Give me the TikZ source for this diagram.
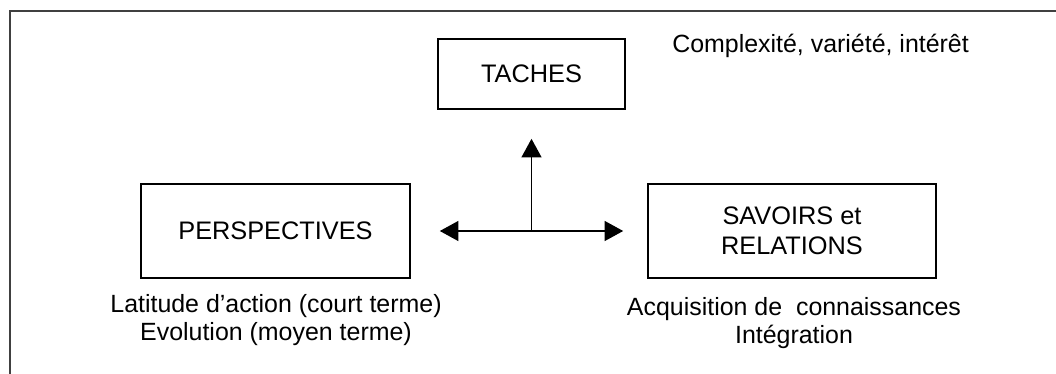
\documentclass[tikz,border=0pt]{standalone}
\usepackage{fontspec}
\setmainfont{Liberation Sans}
\usetikzlibrary{arrows.meta}
\begin{document}
\begin{tikzpicture}
        [x=0.75pt,y=-0.75pt,
         box/.style={draw,line width=1.2pt,inner sep=0pt,align=center,
           font=\fontsize{19}{22.5}\selectfont},
         note/.style={inner sep=0pt,align=center,
           font=\fontsize{18.7}{21}\selectfont},
         link/.style={line width=1.2pt,-{Triangle[length=14pt,width=15pt]}}]
        \useasboundingbox (0,0) rectangle (1056,374);

        \draw[line width=1.5pt,black!75] (10,374) -- (10,11.5) -- (1056,11.5);

        \node[box,minimum width=140pt,minimum height=52.5pt] (taches) at (531.5,74) {TACHES};
        \node[box,minimum width=201.75pt,minimum height=70.5pt] (persp) at (275.5,231) {PERSPECTIVES};
        \node[box,minimum width=216pt,minimum height=70.5pt] (savoirs) at (792,231) {SAVOIRS et\\RELATIONS};

        \node[note,anchor=base west] (tachesnote) at (672,53) {Complexité, variété, intérêt};
        \node[note] (perspnote) at (276,320) {Latitude d’action (court terme)\\Evolution (moyen terme)};
        \node[note] (savoirsnote) at (794,323) {Acquisition de~~connaissances\\Intégration};

        \coordinate (hub) at (531.5,231);
        \draw[link,shorten >=21.75pt] (hub) -- (taches);
        \draw[link,shorten >=21.75pt] (hub) -- (persp);
        \draw[link,shorten >=18pt] (hub) -- (savoirs);
      \end{tikzpicture}
\end{document}
